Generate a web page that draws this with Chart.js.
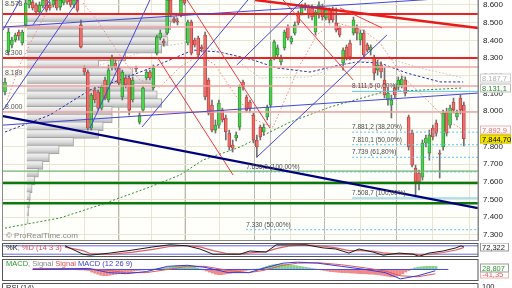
<!DOCTYPE html>
<html><head><meta charset="utf-8">
<script src="https://cdn.jsdelivr.net/npm/chart.js@4/dist/chart.umd.min.js"></script>
<style>
html,body{margin:0;padding:0;background:#fff;width:512px;height:288px;overflow:hidden}
canvas{position:absolute;left:0}
</style></head><body>
<canvas id="main" width="512" height="241" style="top:0"></canvas>
<canvas id="p1" width="512" height="14" style="top:243px"></canvas>
<canvas id="p2" width="512" height="22" style="top:259px"></canvas>
<canvas id="p3" width="512" height="6" style="top:283px"></canvas>
<script>
// ---------- price candles (index = trading day) ----------
const open  = [8108,8334,8374,8402,8447,8385,8487,8600,8617,8600,8560,8594,8628,8600,8600,8628,8588,8611,8656,8628,8600,8628,8487,8244,8221,7904,8119,8108,8017,8176,8063,8249,8272,8244,8080,8187,8187,8063,8244,7938,8006,8187,8221,8131,8328,8413,8396,8441,8628,8521,8509,8543,8628,8385,8504,8402,8413,8362,8430,8176,8034,7893,7921,8006,7961,7876,7808,7848,7910,8164,8080,8051,7978,7837,7910,7882,7967,8034,8300,8317,8278,8357,8475,8391,8441,8555,8555,8600,8588,8583,8447,8543,8588,8526,8571,8571,8498,8470,8272,8362,8385,8441,8470,8402,8441,8374,8345,8300,8232,8261,8176,8063,8034,8131,8136,8148,8176,7967,7876,7678,7650,7627,7820,7763,7904,7933,7763,7797,7995,7921,8051,7967,8074,8034];
const high  = [8187,8470,8419,8441,8458,8458,8628,8656,8628,8611,8617,8645,8645,8617,8645,8645,8639,8670,8670,8639,8645,8645,8515,8255,8232,8102,8136,8119,8148,8193,8261,8317,8289,8255,8232,8204,8204,8193,8255,7995,8142,8232,8232,8261,8430,8458,8408,8639,8645,8532,8526,8639,8639,8515,8515,8413,8424,8374,8447,8187,8063,7950,8063,8017,7978,7893,7837,7882,8148,8176,8091,8063,7989,7865,7921,7927,8034,8300,8402,8374,8317,8458,8487,8424,8504,8566,8605,8611,8600,8600,8571,8617,8605,8583,8583,8588,8583,8481,8357,8374,8402,8532,8487,8458,8458,8385,8374,8317,8289,8278,8244,8131,8091,8148,8193,8198,8193,7978,7893,7695,7667,7837,7865,7893,7921,7950,7780,8006,8017,8034,8074,8006,8091,8051];
const low   = [8091,8317,8357,8391,8402,8374,8475,8583,8571,8543,8543,8583,8560,8571,8588,8571,8571,8600,8605,8588,8583,8560,8357,8204,7893,7893,8046,8006,8006,8063,8051,8232,8232,8148,8063,8131,7978,8051,8221,7927,7995,8176,8176,8119,8317,8402,8368,8430,8532,8498,8487,8532,8600,8374,8317,8362,8300,8334,8063,7978,7882,7876,7904,7938,7837,7780,7769,7831,7893,8119,7995,7995,7820,7740,7837,7865,7950,8023,8289,8300,8261,8345,8402,8379,8430,8487,8543,8571,8526,8515,8430,8526,8515,8515,8498,8504,8447,8419,8232,8289,8289,8430,8402,8374,8300,8334,8317,8176,8204,8187,8074,8034,7961,8074,8119,8131,8085,7780,7684,7526,7554,7610,7797,7723,7837,7859,7622,7780,7859,7904,7989,7950,7984,7803];
const close = [8164,8447,8402,8430,8424,8447,8611,8628,8583,8560,8600,8628,8571,8583,8628,8583,8628,8656,8617,8600,8628,8571,8362,8221,7904,8091,8063,8017,8136,8074,8232,8300,8244,8159,8221,8148,8006,8176,8238,7978,8131,8221,8187,8244,8419,8441,8385,8628,8543,8509,8504,8628,8611,8504,8328,8374,8317,8351,8080,7989,7893,7921,8046,7950,7882,7797,7791,7865,8136,8136,8006,8017,7837,7797,7854,7910,8023,8289,8391,8357,8300,8447,8413,8413,8487,8498,8588,8583,8543,8532,8560,8600,8532,8571,8515,8515,8458,8430,8345,8300,8306,8515,8441,8441,8317,8345,8362,8215,8261,8221,8091,8102,8063,8091,8176,8181,8102,7797,7695,7599,7599,7820,7848,7865,7854,7876,7757,7989,7876,8017,8006,7989,8006,7844.7];

// ---------- volume profile ----------
const profilePrice  = [8610,8560,8510,8460,8410,8360,8310,8260,8210,8160,8110,8060,8010,7960,7910,7860,7810,7760,7710,7660,7610,7560,7510,7460,7410,7360,7310];
const profileVolume = [1670,1600,1550,1570,1500,1100,800,1180,1400,1400,1450,1500,950,950,850,800,520,360,250,180,130,90,60,40,30,20,15];
const profileLabelText  = ['8.578','8.300','8.189','8.000'];
const profileLabelPrice = [8578,8300,8189,8000];

// ---------- axis ticks ----------
const priceTicks = [8600,8500,8400,8300,8200,8100,8000,7900,7800,7700,7600,7500,7400,7300];
const monthTicks = [23.2,42.6,62.3,82.6,102.9,124.1];
const weekTicks  = [1.4,10.1,15.9,30.4,36.2,48.7,55.5,68.7,76.2,89.3,96.0,110.0,117.0,131.0];

// ---------- horizontal levels ----------
const redThickLevels  = [8549,8300];
const redLightLevels  = [8475,8249,8142,7995];
const greenThickLevels= [7594,7480];
const greenThinLevels = [7661];

// ---------- Fibonacci levels ----------
const fibText  = ['8.111,5 (0,00%)','7.881,2 (38,20%)','7.810,1 (50,00%)','7.739 (61,80%)','7.508,7 (100,00%)','7.656,3 (100,00%)','7.330 (50,00%)'];
const fibPrice = [8111.5,7881.2,7810.1,7739,7508.7,7656.3,7330];
const fibStart = [100.6,100.6,100.6,100.6,100.6,69.9,69.9];
const fibSolid = [true,false,false,false,true,false,false];

// ---------- trend lines [startIndex,startPrice,endIndex,endPrice] ----------
const navyLines = [[-0.58,7972,137.1,7452]];
const blueLines = [[-0.58,7921,137.1,8102],[-0.58,8475,137.1,8649],[-0.58,8006,21.2,8628],[-0.58,8458,4.35,8628],[8.1,8487,13.0,8628],[24.6,7904,42.0,8628],[39.7,7910,70.4,8628],[67.2,8261,86.4,8628],[73.0,7740,110.7,8430]];
const redLines  = [[44.1,8306,66.1,7639],[52.8,8628,76.8,7904],[80.6,8628,100.9,8176],[97.1,8583,109.3,8470]];
const redThickLines = [[72.5,8628,137.1,8470]];

// ---------- moving averages / bands (index, price) ----------
const maBlueIdx = [0,13.0,24.6,33.3,42.9,54.5,62.3,71.9,78.8,88.4,97.1,102.0,108.7,116.5,126.1,132.8];
const maBlueVal = [7882,7978,8119,8176,8249,8345,8334,8289,8244,8221,8261,8278,8272,8215,8165,8165];
const maGreenIdx = [0,15.9,27.5,42.0,50.7,57.4,68.1,82.6,94.2,109.6,132.8];
const maGreenVal = [7339,7396,7469,7571,7639,7724,7797,7938,8023,8108,8131.1];
const maGreyIdx = [22.6,44.9,53.6,65.2,73.9,88.4,97.1,110.7,120.3,132.8];
const maGreyVal = [8232,8362,8391,8317,8187,8193,8261,8300,8244,8187.7];
const bandPinkIdx = [22.6,26.7,30.4,34.2,39.1,44.9,50.7,56.5,60.9,66.7,72.5,77.7,81.7,85.5,90.4,95.1,103.8,108.7,115.4,122.3,128.1,132.8];
const bandPinkVal = [8611,8515,8402,8289,8176,8136,8249,8317,8261,8091,7950,7910,8091,8261,8430,8504,8458,8385,8193,8063,7950,7892.9];
const bandPink2Idx = [0.6,4.3,7.8,11.6];
const bandPink2Val = [8063,8261,8402,8543];

// ---------- Stochastic ----------
const stoIdx = [17.4,22.6,24.6,30.4,37.1,42.9,47.8,52.8,56.5,60.3,64.3,68.1,71.0,75.7,78.6,82.3,87.2,92.2,95.9,99.7,102.6,106.7,109.6,114.2,118.3,120.0,122.9,127.0,130.7,132.2,133.0];
const stoK = [80,20,13,28,50,72,87,80,57,20,20,20,43,35,87,87,87,65,57,28,57,35,13,28,20,5,28,43,65,80,72.3];
const stoD = [70,45,25,18,35,55,75,82,72,45,25,20,30,38,60,80,87,78,65,45,45,42,30,20,22,15,18,32,50,62,68];

// ---------- MACD ----------
const macdIdx = [-0.58,18,24.6,30.4,37.1,44.1,50.7,56.5,64.3,71,75.7,82.3,87.2,93.9,101.7,109.6,116.2,121.2,127,132.8];
const macdLine = [0,10,-30,-40,-20,30,40,20,-30,-30,10,60,70,60,30,0,-30,-90,-60,-12];
const signalLine = [10,5,-10,-30,-30,0,30,30,-10,-30,-10,40,60,65,45,15,-15,-60,-70,-41];
const macdHist = [8,10,12,12,10,10,8,8,6,5,4, 2,0,-2,-3,-5,-5,-8,-10, -25,-35,-45,-55,-60,-60,-55,-50,-45,-40,-35,-30, -25,-20,-15,-10,-8,-5,-2,0,3,6,10,12,15, 20,25,30,35,38,40,38,35,30,25, 15,5,-5, -15,-25,-35,-45,-50,-50,-45,-40,-35,-30,-25,-20, -15,-10,-5,-2,2,5,10, 20,30,40,45,50,50,50,48,45,40,38,35,30,25,20,15,10, 5,0,-5, -10,-15,-20,-22,-25,-28,-30,-30,-32,-35,-35,-38,-40,-40,-42,-45,-45,-48,-50,-55,-60,-65,-70,-70,-65,-55,-40, -25,-10,5,15, 20,25,28,30,30,30,28.8];

// ---------- layout constants ----------
const xMin = -0.58, xMax = 137.1;
const yMax = 8628, yMin = 7266;
const FONT = '"Liberation Sans", Arial, sans-serif';

const fmtPrice = v => { const t = Math.floor(v/1000); return t + '.' + String(Math.round(v - t*1000)).padStart(3,'0'); };
const seg = (a) => [{x:a[0],y:a[1]},{x:a[2],y:a[3]}];
const pts = (ix, vals) => ix.map((v,i)=>({x:v, y:vals[i]}));
const lineDs = (data, color, width, dash, order) => ({type:'line', data, borderColor:color, borderWidth:width, borderDash:dash||[], pointRadius:0, fill:false, tension:0, order:order, xAxisID:'x', yAxisID:'y'});

const profileFill = (c) => {
  const ch = c.chart, s = ch.scales && ch.scales.yv;
  if (!s || !c.raw || c.raw.y == null) return '#dcdcdc';
  const py = s.getPixelForValue(c.raw.y);
  if (!isFinite(py)) return '#dcdcdc';
  const g = ch.ctx.createLinearGradient(0, py - 4.4, 0, py + 4.4);
  g.addColorStop(0, '#f6f6f6'); g.addColorStop(0.45, '#e2e2e2'); g.addColorStop(1, '#b4b4b4');
  return g;
};

const datasets = [];
datasets.push({type:'bar', indexAxis:'y', xAxisID:'xv', yAxisID:'yv', order:100,
  data: profilePrice.map((p,i)=>({x:profileVolume[i], y:p})),
  backgroundColor:profileFill, borderColor:'#a4a4a4', borderWidth:1, barThickness:8.8, grouped:false});
datasets.push(lineDs(pts(maGreenIdx,maGreenVal),'#2f8f2f',1,[2,2],20));
datasets.push(lineDs(pts(maGreyIdx,maGreyVal),'#c4c4c4',1,[1.5,2],20));
datasets.push(lineDs(pts(bandPinkIdx,bandPinkVal),'#ee8a8a',1,[1.5,2],20));
datasets.push(lineDs(pts(bandPink2Idx,bandPink2Val),'#ee8a8a',1,[1.5,2],20));
datasets.push(lineDs(pts(maBlueIdx,maBlueVal),'#2a2ab0',1,[2.5,2],20));
datasets.push({type:'bar', order:11, grouped:false, barThickness:1, xAxisID:'x', yAxisID:'y',
  data: low.map((l,i)=>({x:i, y:[l, high[i]]})), backgroundColor:'#707070'});
datasets.push({type:'bar', order:10, grouped:false, barThickness:3, xAxisID:'x', yAxisID:'y',
  data: open.map((o,i)=>({x:i, y:[o, close[i] === o ? o+2 : close[i]]})),
  backgroundColor: open.map((o,i)=> close[i] >= o ? '#4fd24f' : '#ee6f6a'),
  borderColor: open.map((o,i)=> close[i] >= o ? '#23902a' : '#b83a3a'),
  borderWidth:0.8, borderSkipped:false});
redLightLevels.forEach(p=>datasets.push(lineDs(seg([xMin,p,xMax,p]),'#f2a2a2',1.5,[],5)));
redThickLevels.forEach(p=>datasets.push(lineDs(seg([xMin,p,xMax,p]),'#ee2020',2,[],4)));
greenThinLevels.forEach(p=>datasets.push(lineDs(seg([xMin,p,xMax,p]),'#6fb46f',1.2,[],4)));
greenThickLevels.forEach(p=>datasets.push(lineDs(seg([xMin,p,xMax,p]),'#0b7a0b',2.5,[],4)));
fibPrice.forEach((p,i)=>datasets.push(lineDs(seg([fibStart[i],p,xMax,p]), '#5cc8ee', 1, fibSolid[i]?[]:[2,2], 4)));
blueLines.forEach(a=>datasets.push(lineDs(seg(a),'#4646d8',1,[],3)));
redLines.forEach(a=>datasets.push(lineDs(seg(a),'#ee3a3a',1,[],3)));
redThickLines.forEach(a=>datasets.push(lineDs(seg(a),'#ea1a1a',2.5,[],3)));
navyLines.forEach(a=>datasets.push(lineDs(seg(a),'#00007e',2.2,[],2)));

const gridColor = '#e8e6d2';
const monthColor = '#b9b9b2';

const rightBoxes = [
  {v:8187.7, t:'8.187,7', fg:'#b0b0b0', bg:'#ffffff', bd:'#cfcfcf'},
  {v:8131.1, t:'8.131,1', fg:'#2a8a2a', bg:'#ffffff', bd:'#bcbcbc'},
  {v:7892.9, t:'7.892,9', fg:'#e06a6a', bg:'#ffffff', bd:'#f0b0b0'},
  {v:7844.7, t:'7.844,70', fg:'#000000', bg:'#f4e500', bd:'#c8bc00'}
];

const mainPlugin = {
  id:'mainPlugin',
  beforeDraw(chart){
    const {ctx, chartArea:a} = chart;
    ctx.save(); ctx.fillStyle='#fefefb'; ctx.fillRect(a.left,a.top,a.right-a.left,a.bottom-a.top); ctx.restore();
  },
  afterDatasetsDraw(chart){
    const {ctx, scales:{x,y}, chartArea:a} = chart;
    ctx.save();
    ctx.beginPath(); ctx.rect(a.left,a.top,a.right-a.left,a.bottom-a.top); ctx.clip();
    ctx.textBaseline='bottom'; ctx.textAlign='left';
    ctx.font = '6.5px ' + FONT; ctx.fillStyle='#4a4a4a';
    fibText.forEach((t,i)=> ctx.fillText(t, x.getPixelForValue(fibStart[i]), y.getPixelForValue(fibPrice[i]) - 1.5));
    ctx.font = '7px ' + FONT; ctx.fillStyle='#555';
    profileLabelText.forEach((t,i)=> ctx.fillText(t, a.left+2, y.getPixelForValue(profileLabelPrice[i]) - 1));
    ctx.font = '8px ' + FONT; ctx.fillStyle='#8a8a8a';
    ctx.fillText('\u00A9 ProRealTime.com', a.left+3, a.bottom-1);
    ctx.restore();
    ctx.save(); ctx.strokeStyle='#8a8a8a'; ctx.lineWidth=1;
    ctx.strokeRect(a.left-0.5, a.top-0.5, a.right-a.left+0.5, a.bottom-a.top); ctx.restore();
  },
  afterDraw(chart){
    const {ctx, scales:{y}, chartArea:a} = chart;
    ctx.save();
    ctx.font = '7.5px ' + FONT; ctx.textBaseline='middle'; ctx.textAlign='left';
    rightBoxes.forEach(b=>{
      const py = Math.round(y.getPixelForValue(b.v));
      ctx.fillStyle=b.bg; ctx.fillRect(a.right+2, py-4.5, 31, 9);
      ctx.strokeStyle=b.bd; ctx.lineWidth=1; ctx.strokeRect(a.right+2.5, py-4, 30, 8);
      ctx.fillStyle=b.fg; ctx.fillText(b.t, a.right+4, py+0.5);
    });
    ctx.restore();
  }
};

const tickVal = c => (c && c.tick) ? c.tick.value : null;

new Chart(document.getElementById('main'), {
  type:'bar',
  data:{datasets},
  options:{
    responsive:false, animation:false, devicePixelRatio:1,
    layout:{padding:{left:3,top:0,right:0,bottom:0}},
    plugins:{legend:{display:false}, tooltip:{enabled:false}},
    scales:{
      x:{type:'linear', min:xMin, max:xMax, offset:false,
         grid:{color:c=> monthTicks.includes(tickVal(c)) ? monthColor : gridColor, drawTicks:false},
         border:{display:false}, ticks:{display:false},
         afterBuildTicks:s=>{ s.ticks = weekTicks.concat(monthTicks).map(v=>({value:v})); },
         afterFit:s=>{ s.height = 0; }},
      y:{type:'linear', position:'right', min:yMin, max:yMax,
         grid:{color:gridColor, drawTicks:false}, border:{display:true, color:'#8a8a8a'},
         ticks:{color:'#222', font:{size:8, family:FONT}, padding:5, callback:v=>fmtPrice(v)},
         afterBuildTicks:s=>{ s.ticks = priceTicks.map(v=>({value:v})); },
         afterFit:s=>{ s.width = 34; s.paddingTop = 0; s.paddingBottom = 0; }},
      xv:{type:'linear', axis:'x', min:0, max:4750, display:false},
      yv:{type:'linear', axis:'y', min:yMin, max:yMax, display:false}
    }
  },
  plugins:[mainPlugin]
});

const panelFrame = (labelParts, boxes) => ({
  id:'frame',
  beforeDraw(chart){ const {ctx, chartArea:a}=chart; ctx.save(); ctx.fillStyle='#fff'; ctx.fillRect(a.left,a.top,a.right-a.left,a.bottom-a.top); ctx.restore(); },
  afterDraw(chart){
    const {ctx, chartArea:a, scales:{y}} = chart;
    ctx.save();
    ctx.strokeStyle='#555'; ctx.lineWidth=1; ctx.strokeRect(a.left-0.5,a.top+0.5,a.right-a.left+0.5,a.bottom-a.top-1);
    ctx.font='7.5px '+FONT; ctx.textBaseline='top'; ctx.textAlign='left';
    let xx = a.left+3;
    labelParts.forEach(p=>{ ctx.fillStyle=p[1]; ctx.fillText(p[0], xx, a.top+1); xx += ctx.measureText(p[0]).width; });
    boxes.forEach(b=>{
      const py = Math.round(y.getPixelForValue(b.v));
      ctx.fillStyle='#fff'; ctx.fillRect(a.right+2, py-4.5, 31, 9);
      ctx.strokeStyle=b.bd; ctx.strokeRect(a.right+2.5, py-4, 28, 8);
      ctx.fillStyle=b.fg; ctx.textBaseline='middle'; ctx.fillText(b.t, a.right+4, py+0.5);
    });
    ctx.restore();
  }
});
const panelScales = (ymin, ymax) => ({
  x:{type:'linear', min:xMin, max:xMax, display:false},
  y:{type:'linear', position:'right', min:ymin, max:ymax, grid:{display:false}, ticks:{display:false}, border:{display:false},
     afterFit:s=>{ s.width = 34; s.paddingTop=0; s.paddingBottom=0; }}
});
const baseOpts = (ymin,ymax)=>({responsive:false, animation:false, devicePixelRatio:1, layout:{padding:{left:3}},
  plugins:{legend:{display:false}, tooltip:{enabled:false}}, scales:panelScales(ymin,ymax)});

new Chart(document.getElementById('p1'), {
  type:'line',
  data:{datasets:[
    {data:pts(stoIdx, stoK), borderColor:'#1a1a1a', borderWidth:1, pointRadius:0},
    {data:pts(stoIdx, stoD), borderColor:'#e06060', borderWidth:1.2, pointRadius:0},
    {data:seg([xMin,80,xMax,80]), borderColor:'#6a6ae0', borderWidth:1, pointRadius:0},
    {data:seg([xMin,20,xMax,20]), borderColor:'#6a6ae0', borderWidth:1, pointRadius:0}
  ]},
  options:baseOpts(0,100),
  plugins:[panelFrame([['%K','#111'],[', %D (14 3 3)','#e05050']], [{v:72.3, t:'72,322', fg:'#222', bd:'#999'}])]
});

new Chart(document.getElementById('p2'), {
  type:'bar',
  data:{datasets:[
    {type:'bar', data:macdHist.map((v,i)=>({x:i,y:v})), barThickness:2.4, grouped:false,
     backgroundColor:macdHist.map(v=> v>=0 ? '#7fd27f' : '#ee8a8a'), order:3},
    {type:'line', data:seg([xMin,0,xMax,0]), borderColor:'#4a4ae0', borderWidth:1, pointRadius:0, order:2},
    {type:'line', data:pts(macdIdx, signalLine), borderColor:'#e05a5a', borderWidth:1, pointRadius:0, order:1},
    {type:'line', data:pts(macdIdx, macdLine), borderColor:'#3a3ad8', borderWidth:1, pointRadius:0, order:0}
  ]},
  options:baseOpts(-110,100),
  plugins:[panelFrame([['MACD','#2a9a2a'],[', Signal ','#888'],['Signal ','#e05050'],['MACD (12 26 9)','#3a3ad8']],
    [{v:-41, t:'-41,35', fg:'#e05a5a', bd:'#f0b0b0'},{v:10, t:'28,807', fg:'#2a9a2a', bd:'#9c9c9c'}])]
});

new Chart(document.getElementById('p3'), {
  type:'line',
  data:{datasets:[{data:[], pointRadius:0}]},
  options:baseOpts(0,100),
  plugins:[{id:'p3', afterDraw(chart){
    const {ctx, chartArea:a} = chart;
    ctx.save(); ctx.strokeStyle='#555'; ctx.beginPath(); ctx.moveTo(a.left-0.5,a.bottom); ctx.lineTo(a.left-0.5,a.top+0.5); ctx.lineTo(a.right,a.top+0.5); ctx.lineTo(a.right, a.bottom); ctx.stroke();
    ctx.font='7.5px '+FONT; ctx.fillStyle='#222'; ctx.textBaseline='top';
    ctx.fillText('RSI (14)', a.left+3, a.top+1.5);
    ctx.fillText('100', a.right+4, a.top);
    ctx.restore();
  }}]
});
</script></body></html>
